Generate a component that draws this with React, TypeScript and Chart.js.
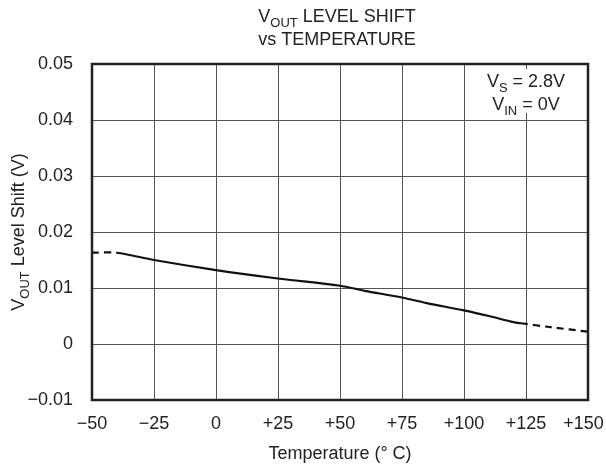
import React, { useEffect, useRef } from "react";
import { Chart, registerables } from "chart.js";

Chart.register(...registerables);

// Data
const temperatures = [-50, -40, -25, 0, 25, 50, 60, 75, 85, 100, 110, 120, 123, 135, 150];
const levelShift = [0.0163, 0.0163, 0.015, 0.0132, 0.0117, 0.0104, 0.0095, 0.0083, 0.0073, 0.006, 0.005, 0.0039, 0.0037, 0.003, 0.0022];
const solidStart = -40;
const solidEnd = 123;

const xTickValues = [-50, -25, 0, 25, 50, 75, 100, 125, 150];
const xTickLabels = ["\u221250", "\u221225", "0", "+25", "+50", "+75", "+100", "+125", "+150\u2002"];
const yTickValues = [-0.01, 0, 0.01, 0.02, 0.03, 0.04, 0.05];
const yTickLabels = ["\u22120.01", "0", "0.01", "0.02", "0.03", "0.04", "0.05"];

const titleLine1 = [{ t: "V" }, { t: "OUT", sub: true }, { t: " LEVEL SHIFT" }];
const titleLine2 = [{ t: "vs TEMPERATURE" }];
const yTitle = [{ t: "V" }, { t: "OUT", sub: true }, { t: " Level Shift (V)" }];
const xTitle = "Temperature (\u00B0 C)";
const note1 = [{ t: "V" }, { t: "S", sub: true }, { t: " = 2.8V" }];
const note2 = [{ t: "V" }, { t: "IN", sub: true }, { t: " = 0V" }];

const FONT = "'Liberation Sans', Arial, sans-serif";
const TEXT = "#222";

type Part = { t: string; sub?: boolean };

function drawRich(ctx: CanvasRenderingContext2D, parts: Part[], x: number, y: number, size: number) {
  const subSize = size * 0.72;
  let w = 0;
  for (const p of parts) {
    ctx.font = `${p.sub ? subSize : size}px ${FONT}`;
    w += ctx.measureText(p.t).width;
  }
  let cx = x - w / 2;
  ctx.textAlign = "left";
  ctx.textBaseline = "alphabetic";
  for (const p of parts) {
    ctx.font = `${p.sub ? subSize : size}px ${FONT}`;
    ctx.fillText(p.t, cx, p.sub ? y + size * 0.28 : y);
    cx += ctx.measureText(p.t).width;
  }
}

const overlay = {
  id: "overlay",
  afterDraw(chart: any) {
    const ctx: CanvasRenderingContext2D = chart.ctx;
    const a = chart.chartArea;
    ctx.save();
    // note box
    ctx.fillStyle = "#fff";
    ctx.fillRect(481, 69, 92, 44);
    // border
    ctx.strokeStyle = "#222";
    ctx.lineWidth = 2.5;
    ctx.strokeRect(a.left, a.top, a.right - a.left, a.bottom - a.top);
    ctx.fillStyle = TEXT;
    const cxm = (a.left + a.right) / 2;
    drawRich(ctx, titleLine1, cxm - 3, 22, 18);
    drawRich(ctx, titleLine2, cxm - 3, 45, 18);
    drawRich(ctx, note1, 526, 87, 18);
    drawRich(ctx, note2, 526, 110, 18);
    ctx.font = `18px ${FONT}`;
    ctx.textAlign = "center";
    ctx.textBaseline = "alphabetic";
    ctx.fillText(xTitle, cxm, 459);
    ctx.save();
    ctx.translate(24, (a.top + a.bottom) / 2);
    ctx.rotate(-Math.PI / 2);
    drawRich(ctx, yTitle, 0, 0, 18);
    ctx.restore();
    ctx.restore();
  },
};

export default function App() {
  const ref = useRef<HTMLCanvasElement | null>(null);
  useEffect(() => {
    document.body.style.margin = "0";
    const canvas = ref.current;
    if (!canvas) return;
    const isDashed = (x0: number, x1: number) => x1 <= solidStart || x0 >= solidEnd;
    const chart = new Chart(canvas, {
      type: "line",
      data: {
        datasets: [
          {
            data: temperatures.map((x, i) => ({ x, y: levelShift[i] })),
            borderColor: "#111",
            borderWidth: 2.2,
            pointRadius: 0,
            tension: 0.3,
            fill: false,
            segment: {
              borderDash: (c: any) => (isDashed(c.p0.parsed.x, c.p1.parsed.x) ? [7, 5] : undefined),
            },
          },
        ],
      },
      options: {
        animation: false,
        responsive: false,
        maintainAspectRatio: false,
        layout: { padding: { top: 64, right: 18, bottom: 0, left: 0 } },
        plugins: { legend: { display: false }, tooltip: { enabled: false }, title: { display: false } },
        scales: {
          x: {
            type: "linear",
            min: -50,
            max: 150,
            afterBuildTicks: (s: any) => {
              s.ticks = xTickValues.map((v) => ({ value: v }));
            },
            afterFit: (s: any) => {
              s.height = 68;
              s.paddingLeft = 0;
              s.paddingRight = 0;
            },
            grid: { color: "#555", lineWidth: 1, drawTicks: false },
            border: { display: false },
            ticks: {
              padding: 13,
              color: TEXT,
              font: { family: FONT, size: 18 },
              maxRotation: 0,
              autoSkip: false,
              callback: (v: any) => {
                const i = xTickValues.indexOf(Math.round(Number(v)));
                return i >= 0 ? xTickLabels[i] : "";
              },
            },
          },
          y: {
            type: "linear",
            min: -0.01,
            max: 0.05,
            afterBuildTicks: (s: any) => {
              s.ticks = yTickValues.map((v) => ({ value: v }));
            },
            afterFit: (s: any) => {
              s.width = 92;
              s.paddingTop = 0;
              s.paddingBottom = 0;
            },
            grid: { color: "#555", lineWidth: 1, drawTicks: false },
            border: { display: false },
            ticks: {
              padding: 19,
              color: TEXT,
              font: { family: FONT, size: 18 },
              autoSkip: false,
              callback: (v: any) => {
                const i = yTickValues.findIndex((t) => Math.abs(t - Number(v)) < 1e-6);
                return i >= 0 ? yTickLabels[i] : "";
              },
            },
          },
        },
      },
      plugins: [overlay],
    } as any);
    return () => chart.destroy();
  }, []);
  return (
    <div style={{ width: 606, height: 468, overflow: "hidden", background: "#fff" }}>
      <canvas ref={ref} width={606} height={468} style={{ display: "block", width: 606, height: 468 }} />
    </div>
  );
}
